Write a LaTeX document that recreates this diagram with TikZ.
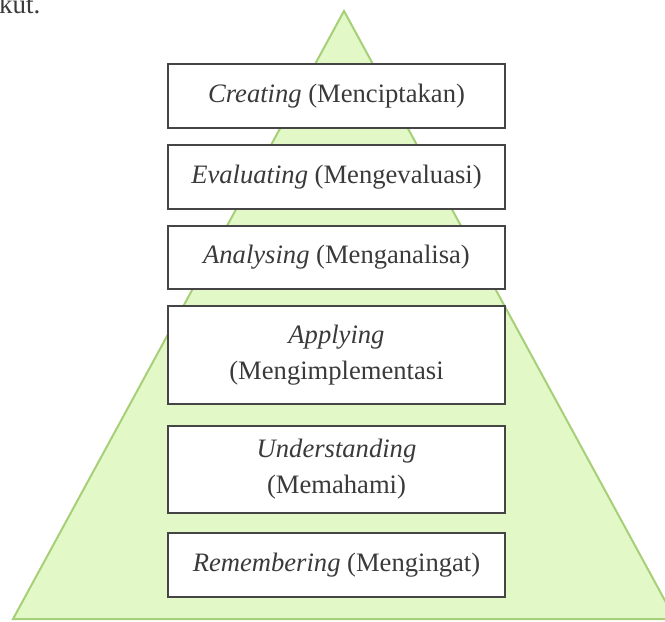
\documentclass[tikz,border=0pt]{standalone}
\usepackage{fontspec}
\setmainfont{Liberation Serif}
\usepackage{xcolor}
\definecolor{hijaumuda}{HTML}{E3F8C7}
\definecolor{hijautepi}{HTML}{A6CF78}
\definecolor{abutepi}{HTML}{454545}
\definecolor{teksabu}{HTML}{3A3A3A}

\begin{document}
\begin{tikzpicture}[x=1pt, y=-1pt,
    kotak/.style={draw=abutepi, fill=white, line width=1.4pt, rectangle,
      minimum width=337pt, align=center, text=teksabu,
      font=\fontsize{26.6}{36}\selectfont}]
    \useasboundingbox (0,0) rectangle (665,622);
    \clip (0,0) rectangle (665,622);

    % Segitiga latar
    \filldraw[fill=hijaumuda, draw=hijautepi, line width=2pt, line join=miter]
      (344,11) -- (13,619) -- (675,619) -- cycle;

    % Potongan teks di atas
    \node [anchor=base west, inner sep=0pt, text=teksabu,
      font=\fontsize{27}{30}\selectfont] (sisa) at (-1,13) {kut.};

    % Definisi kotak
    \node [kotak, minimum height=64pt] (creating) at (336.5,96) {\textit{Creating} (Menciptakan)};
    \node [kotak, minimum height=64pt] (evaluating) at (336.5,177) {\textit{Evaluating} (Mengevaluasi)};
    \node [kotak, minimum height=63pt] (analysing) at (336.5,257.5) {\textit{Analysing} (Menganalisa)};
    \node [kotak, minimum height=98pt] (applying) at (336.5,355) {\textit{Applying}\\(Mengimplementasi};
    \node [kotak, minimum height=87pt] (understanding) at (336.5,469.5) {\textit{Understanding}\\(Memahami)};
    \node [kotak, minimum height=64pt] (remembering) at (336.5,565) {\textit{Remembering} (Mengingat)};

\end{tikzpicture}
\end{document}
